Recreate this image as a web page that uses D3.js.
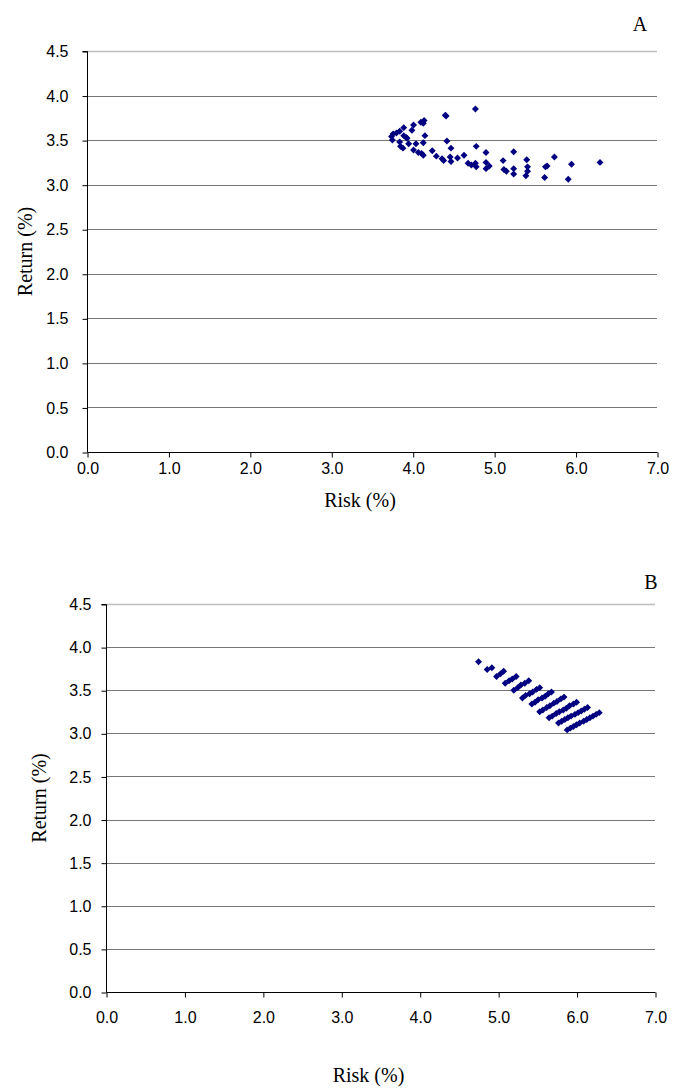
<!DOCTYPE html>
<html>
<head>
<meta charset="utf-8">
<script src="https://cdn.jsdelivr.net/npm/d3@7"></script>
<style>
  body { margin: 0; background: #fff; }
  .tick text { font-family: "Liberation Sans", Arial, sans-serif; font-size: 16px; fill: #000; }
  .title { font-family: "Liberation Serif", "Times New Roman", serif; font-size: 20px; fill: #000; }
</style>
</head>
<body>
<svg id="chart" width="673" height="1090"></svg>
<script>
const RISK_TICKS = [0, 1, 2, 3, 4, 5, 6, 7]
const RETURN_TICKS = [0, 0.5, 1, 1.5, 2, 2.5, 3, 3.5, 4, 4.5]
const MARK_COLOR = '#000080'

// panel A: scattered portfolios
const riskA = [4.77, 4.40, 4.41, 4.14, 4.10, 4.13, 4.01, 3.89, 3.99, 3.84, 3.76, 3.80, 4.15, 3.92, 3.89,
  3.75, 4.42, 3.84, 4.13, 3.95, 4.04, 3.85, 4.78, 3.88, 4.47, 4.01, 4.24, 4.90, 5.24, 4.07,
  5.74, 4.11, 4.13, 4.29, 4.63, 4.46, 4.55, 4.36, 4.38, 4.47, 4.90, 5.11, 5.40, 6.30, 5.95,
  4.68, 4.72, 4.77, 4.78, 4.94, 4.90, 5.41, 5.65, 5.63, 5.12, 5.15, 5.24, 5.41, 5.24, 5.39,
  5.62, 5.91, 3.74, 3.93]
const returnA = [3.85, 3.78, 3.77, 3.72, 3.70, 3.69, 3.67, 3.64, 3.61, 3.60, 3.57, 3.58, 3.55, 3.53, 3.55,
  3.50, 3.49, 3.48, 3.47, 3.46, 3.46, 3.43, 3.43, 3.41, 3.41, 3.39, 3.38, 3.36, 3.37, 3.36,
  3.31, 3.35, 3.33, 3.32, 3.33, 3.31, 3.30, 3.29, 3.27, 3.26, 3.25, 3.27, 3.28, 3.25, 3.23,
  3.24, 3.22, 3.24, 3.20, 3.21, 3.18, 3.20, 3.21, 3.20, 3.17, 3.15, 3.18, 3.15, 3.12, 3.10,
  3.08, 3.06, 3.54, 3.52]

// panel B: portfolios lining up in short diagonal runs
const riskB = [4.75,
  4.86, 4.92,
  4.98, 5.03, 5.07,
  5.09, 5.14, 5.18, 5.23,
  5.20, 5.25, 5.29, 5.34, 5.39,
  5.31, 5.35, 5.40, 5.44, 5.49, 5.53,
  5.43, 5.47, 5.51, 5.56, 5.60, 5.64, 5.68,
  5.53, 5.57, 5.62, 5.66, 5.71, 5.75, 5.80, 5.84,
  5.65, 5.69, 5.74, 5.78, 5.83, 5.87, 5.91, 5.96, 6.00,
  5.77, 5.81, 5.85, 5.89, 5.93, 5.98, 6.02, 6.06, 6.10, 6.14,
  5.88, 5.92, 5.96, 6.00, 6.04, 6.09, 6.13, 6.17, 6.21, 6.25, 6.29]
const returnB = [3.83,
  3.74, 3.76,
  3.66, 3.69, 3.72,
  3.58, 3.61, 3.63, 3.66,
  3.50, 3.53, 3.56, 3.58, 3.61,
  3.41, 3.44, 3.46, 3.48, 3.51, 3.53,
  3.34, 3.36, 3.39, 3.41, 3.43, 3.46, 3.48,
  3.25, 3.27, 3.30, 3.32, 3.35, 3.37, 3.40, 3.42,
  3.18, 3.20, 3.23, 3.25, 3.27, 3.29, 3.32, 3.34, 3.36,
  3.12, 3.14, 3.16, 3.18, 3.20, 3.22, 3.24, 3.26, 3.28, 3.30,
  3.04, 3.06, 3.08, 3.10, 3.12, 3.14, 3.16, 3.18, 3.20, 3.22, 3.24]

const svg = d3.select('#chart')
const diamond = d3.symbol(d3.symbolSquare, 24)

function drawPanel(p) {
    const x = d3.scaleLinear().domain([0, 7]).range([p.left, p.right])
    const y = d3.scaleLinear().domain([0, 4.5]).range([p.bottom, p.top])
    const g = svg.append('g')

    // horizontal grid
    g.append('g').selectAll('line')
        .data(RETURN_TICKS.filter((d) => d > 0))
        .enter().append('line')
        .attr('x1', p.left).attr('x2', p.right)
        .attr('y1', (d) => Math.round(y(d)) + 0.5)
        .attr('y2', (d) => Math.round(y(d)) + 0.5)
        .attr('stroke', (d) => d === 4.5 ? '#bdbdbd' : '#777')
        .attr('stroke-width', (d) => d === 4.5 ? 1.5 : 1)

    const yAxis = g.append('g')
        .attr('transform', `translate(${p.left + 0.5},0.5)`)
        .call(d3.axisLeft(y).tickValues(RETURN_TICKS).tickSize(5).tickPadding(p.yPad)
            .tickFormat(d3.format('.1f')))
    yAxis.select('.domain').attr('d', `M-5,${Math.round(p.top)}H0V${Math.round(p.bottom)}`)

    const xAxis = g.append('g')
        .attr('transform', `translate(0.5,${p.bottom + 0.5})`)
        .call(d3.axisBottom(x).tickValues(RISK_TICKS).tickSize(5).tickPadding(p.xPad)
            .tickFormat(d3.format('.1f')))
    xAxis.select('.domain').attr('d', `M${p.left},0H${p.right}`)
    g.selectAll('.domain, .tick line').attr('stroke', '#000')

    g.append('g').selectAll('path')
        .data(d3.zip(p.risk, p.ret))
        .enter().append('path')
        .attr('d', diamond)
        .attr('transform', (d) => `translate(${x(d[0])},${y(d[1])}) rotate(45)`)
        .attr('fill', MARK_COLOR)

    g.append('text').attr('class', 'title')
        .attr('x', p.labelX).attr('y', p.labelY)
        .attr('text-anchor', 'middle')
        .text(p.label)

    g.append('text').attr('class', 'title')
        .attr('x', (p.left + p.right) / 2 - 12).attr('y', p.xTitleY)
        .attr('text-anchor', 'middle')
        .text('Risk (%)')

    g.append('text').attr('class', 'title')
        .attr('transform', `translate(${p.yTitleX},${(p.top + p.bottom) / 2}) rotate(-90)`)
        .attr('text-anchor', 'middle')
        .text('Return (%)')
}

drawPanel({
    label: 'A', labelX: 640, labelY: 31,
    left: 87, right: 657, top: 51, bottom: 452,
    xPad: 5, yPad: 14, xTitleY: 507, yTitleX: 32,
    risk: riskA, ret: returnA
})

drawPanel({
    label: 'B', labelX: 651, labelY: 589,
    left: 106, right: 655, top: 604, bottom: 992,
    xPad: 14, yPad: 10, xTitleY: 1082, yTitleX: 46,
    risk: riskB, ret: returnB
})
</script>
</body>
</html>
